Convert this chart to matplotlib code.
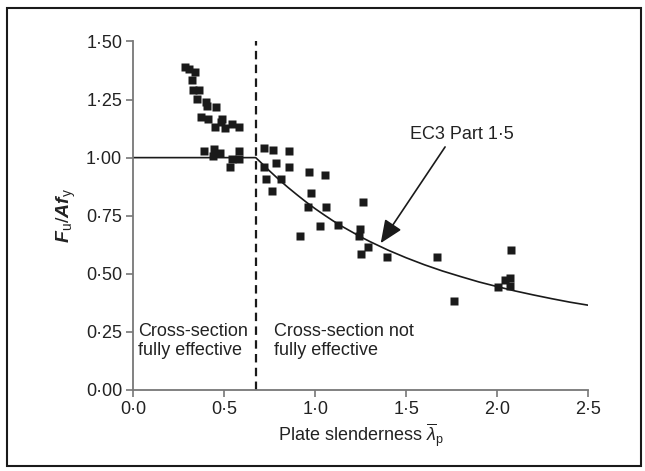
import matplotlib
matplotlib.use("Agg")
import matplotlib.pyplot as plt
from matplotlib.patches import Rectangle

plt.rcParams['font.family'] = ['Liberation Sans', 'DejaVu Sans']
plt.rcParams['mathtext.fontset'] = 'custom'
plt.rcParams['mathtext.rm'] = 'Liberation Sans'
plt.rcParams['mathtext.it'] = 'Liberation Sans:italic'
plt.rcParams['mathtext.bf'] = 'Liberation Sans:bold:italic'

# test results (plate slenderness, Fu/Afy)
test_x = [0.284, 0.306, 0.339, 0.321, 0.330, 0.361, 0.349, 0.398, 0.404, 0.453,
          0.371, 0.409, 0.489, 0.482, 0.504, 0.447, 0.544, 0.581,
          0.387, 0.444, 0.477, 0.437, 0.543, 0.583, 0.583, 0.532,
          0.719, 0.768, 0.856, 0.785, 0.716, 0.858, 0.728, 0.812, 0.965, 1.053,
          0.764, 0.977, 0.959, 1.061, 1.265, 1.029, 1.123, 0.917, 1.247, 1.243,
          1.292, 1.252, 1.392, 1.670, 2.074, 1.765, 2.004, 2.045, 2.071, 2.071]
test_y = [1.392, 1.381, 1.370, 1.334, 1.291, 1.291, 1.253, 1.241, 1.224, 1.218,
          1.176, 1.167, 1.168, 1.155, 1.129, 1.131, 1.144, 1.133,
          1.030, 1.036, 1.019, 1.007, 0.996, 1.028, 0.996, 0.959,
          1.040, 1.033, 1.030, 0.976, 0.960, 0.960, 0.908, 0.908, 0.937, 0.926,
          0.857, 0.847, 0.786, 0.789, 0.808, 0.707, 0.709, 0.664, 0.691, 0.663,
          0.617, 0.584, 0.571, 0.574, 0.603, 0.383, 0.445, 0.474, 0.484, 0.448]

# EC3 Part 1.5 design curve
ec3_x = [0.0, 0.673, 0.7, 0.75, 0.8, 0.85, 0.9, 0.95, 1.0, 1.05, 1.1, 1.15, 1.2, 1.25,
         1.3, 1.4, 1.5, 1.6, 1.7, 1.8, 1.9, 2.0, 2.1, 2.2, 2.3, 2.4, 2.5]
ec3_y = [1.0, 1.0, 0.980, 0.942, 0.906, 0.872, 0.840, 0.809, 0.780, 0.753, 0.727,
         0.703, 0.681, 0.659, 0.639, 0.602, 0.569, 0.539, 0.512, 0.488, 0.465,
         0.445, 0.426, 0.409, 0.393, 0.378, 0.365]
lambda_lim = 0.673

x_ticks = [0.0, 0.5, 1.0, 1.5, 2.0, 2.5]
x_labels = ['0·0', '0·5', '1·0', '1·5', '2·0', '2·5']
y_ticks = [0.0, 0.25, 0.5, 0.75, 1.0, 1.25, 1.5]
y_labels = ['0·00', '0·25', '0·50', '0·75', '1·00', '1·25', '1·50']

fig = plt.figure(figsize=(6.45, 4.71), dpi=100)
ax = fig.add_axes([0.2067, 0.172, 0.705, 0.740])

ax.plot(ec3_x, ec3_y, color='#1a1a1a', lw=1.2)
ax.plot(test_x, test_y, 's', color='#1a1a1a', ms=5.5, mec='none')
ax.plot([lambda_lim, lambda_lim], [0, 1.5], color='#1a1a1a', lw=1.6,
        linestyle=(0, (3.8, 2.4)))

ax.set_xlim(0, 2.5)
ax.set_ylim(0, 1.5)
ax.set_xticks(x_ticks)
ax.set_xticklabels(x_labels)
ax.set_yticks(y_ticks)
ax.set_yticklabels(y_labels)
for s in ['top', 'right']:
    ax.spines[s].set_visible(False)
for s in ['left', 'bottom']:
    ax.spines[s].set_color('#777777')
    ax.spines[s].set_linewidth(1.3)
ax.tick_params(direction='out', length=5, width=1.2, color='#777777',
               labelsize=13, labelcolor='#222222', pad=3)

ax.set_xlabel(r'Plate slenderness $\overline{\lambda}_{\mathrm{p}}$', fontsize=13,
              color='#222222', labelpad=2)
ax.set_ylabel(r'$\mathbf{F}_{\mathrm{u}}\mathrm{/}\mathbf{Af}_{\mathrm{y}}$',
              fontsize=14, color='#222222', labelpad=6)

ax.text(0.026, 0.21, 'Cross-section\nfully effective', fontsize=13,
        color='#222222', va='center', ha='left')
ax.text(0.775, 0.21, 'Cross-section not\nfully effective', fontsize=13,
        color='#222222', va='center', ha='left')
ax.text(1.522, 1.098, 'EC3 Part 1·5', fontsize=13, color='#222222',
        va='center', ha='left')
ax.annotate('', xy=(1.36, 0.632), xytext=(1.714, 1.046),
            arrowprops=dict(arrowstyle='-|>,head_length=0.7,head_width=0.3',
                            color='#1a1a1a', lw=1.2,
                            mutation_scale=20, shrinkA=0, shrinkB=0))

fig.patches.append(Rectangle((0.0109, 0.0106), 0.983, 0.972,
                             transform=fig.transFigure, fill=False,
                             edgecolor='#1a1a1a', lw=1.5))

fig.savefig('out.png', dpi=100)
